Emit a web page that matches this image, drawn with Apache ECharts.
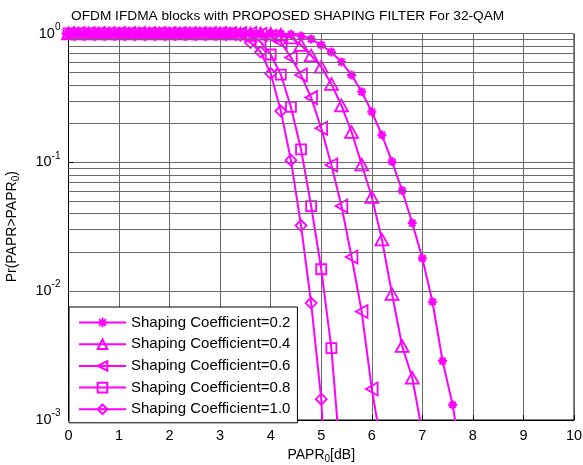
<!DOCTYPE html>
<html>
<head>
<meta charset="utf-8">
<script src="https://cdn.jsdelivr.net/npm/echarts@6/dist/echarts.min.js"></script>
<style>
  html, body { margin: 0; padding: 0; background: #fff; }
  #chart { width: 583px; height: 465px; }
</style>
</head>
<body>
<div id="chart"></div>
<script>
// PAPR threshold values (dB), one sample every 0.2 dB
const papr = [0, 0.2, 0.4, 0.6, 0.8, 1.0, 1.2, 1.4, 1.6, 1.8,
              2.0, 2.2, 2.4, 2.6, 2.8, 3.0, 3.2, 3.4, 3.6, 3.8,
              4.0, 4.2, 4.4, 4.6, 4.8, 5.0, 5.2, 5.4, 5.6, 5.8,
              6.0, 6.2, 6.4, 6.6, 6.8, 7.0, 7.2, 7.4, 7.6, 7.8];

// CCDF Pr(PAPR > PAPR0) for each shaping coefficient (null = no further samples)
const ccdf02 = [1, 1, 1, 1, 1, 1, 1, 1, 1, 1,
                1, 1, 1, 1, 1, 1, 1, 1, 1, 1,
                1, 0.995, 0.985, 0.956, 0.906, 0.814, 0.718, 0.601, 0.476, 0.353,
                0.247, 0.163, 0.1014, 0.0604, 0.0338, 0.0180, 0.00828, 0.00287, 0.00131, 0.0004];
const ccdf04 = [1, 1, 1, 1, 1, 1, 1, 1, 1, 1,
                1, 1, 1, 1, 1, 1, 1, 1, 1, 1,
                0.995, 0.98, 0.93, 0.814, 0.675, 0.552, 0.406, 0.276, 0.172, 0.0961,
                0.0538, 0.0252, 0.0095, 0.00375, 0.00213, 0.0008, null, null, null, null];
const ccdf06 = [1, 1, 1, 1, 1, 1, 1, 1, 1, 1,
                1, 1, 1, 1, 1, 1, 1, 1, 1, 0.985,
                0.95, 0.86, 0.651, 0.476, 0.318, 0.184, 0.0953, 0.0458, 0.0184, 0.00695,
                0.00174, 0.0006, null, null, null, null, null, null, null, null];
const ccdf08 = [1, 1, 1, 1, 1, 1, 1, 1, 1, 1,
                1, 1, 1, 1, 1, 1, 1, 0.99, 0.96, 0.86,
                0.687, 0.480, 0.269, 0.126, 0.0458, 0.0148, 0.00361, 0.0004, null, null,
                null, null, null, null, null, null, null, null, null, null];
const ccdf10 = [1, 1, 1, 1, 1, 1, 1, 1, 1, 1,
                1, 1, 1, 1, 1, 0.998, 0.99, 0.97, 0.85, 0.718,
                0.489, 0.250, 0.104, 0.0323, 0.00809, 0.00145, 0.00004, null, null, null,
                null, null, null, null, null, null, null, null, null, null];

const seriesNames = ['Shaping Coefficient=0.2', 'Shaping Coefficient=0.4',
                     'Shaping Coefficient=0.6', 'Shaping Coefficient=0.8',
                     'Shaping Coefficient=1.0'];

// x-axis tick values and y-axis decades
const xTicks = [0, 1, 2, 3, 4, 5, 6, 7, 8, 9, 10];
const yDecades = [-3, -2, -1, 0];
// logarithmic minor grid mantissas
const minorMantissas = [2, 3, 4, 5, 6, 7, 8, 9];

const MAGENTA = '#ff00ff';
const FONT = '"Liberation Sans", Arial, Helvetica, sans-serif';

// marker shapes (hollow, stroked)
const markers = [
  { symbol: 'path://M5,0L5,10M0,5L10,5M1.5,1.5L8.5,8.5M1.5,8.5L8.5,1.5', size: 9 },
  { symbol: 'path://M5,0L10,9L0,9Z', size: 13 },
  { symbol: 'path://M0,5L9,0L9,10Z', size: 13 },
  { symbol: 'rect', size: 10 },
  { symbol: 'diamond', size: 11 }
];

const allCurves = [ccdf02, ccdf04, ccdf06, ccdf08, ccdf10];

function toPairs(ys) {
  const out = [];
  for (let i = 0; i < papr.length; i++) {
    if (ys[i] === null || ys[i] === undefined) break;
    out.push([papr[i], ys[i]]);
  }
  return out;
}

const series = allCurves.map((ys, k) => ({
  name: seriesNames[k],
  type: 'line',
  data: toPairs(ys),
  symbol: markers[k].symbol,
  symbolSize: markers[k].size,
  symbolKeepAspect: true,
  showAllSymbol: true,
  clip: true,
  animation: false,
  color: MAGENTA,
  lineStyle: { color: MAGENTA, width: 2 },
  itemStyle: { color: 'rgba(255,255,255,0)', borderColor: MAGENTA, borderWidth: k === 0 ? 2.2 : 1.8 },
  emphasis: { disabled: true },
  z: 3
}));

// minor horizontal grid lines at 2..9 x 10^k
const minorLines = [];
for (let d = 0; d < yDecades.length - 1; d++) {
  const base = Math.pow(10, yDecades[d]);
  minorMantissas.forEach(m => minorLines.push({ yAxis: +(m * base).toPrecision(3) }));
}
series.unshift({
  name: 'grid-minor',
  type: 'line',
  data: [],
  silent: true,
  animation: false,
  markLine: {
    silent: true,
    symbol: 'none',
    label: { show: false },
    lineStyle: { color: '#6a6a6a', width: 1, type: 'solid' },
    data: minorLines,
    animation: false
  },
  z: 1
});

const chart = echarts.init(document.getElementById('chart'), null, { renderer: 'canvas' });
chart.setOption({
  backgroundColor: '#ffffff',
  animation: false,
  title: {
    text: 'OFDM IFDMA blocks with PROPOSED SHAPING FILTER For 32-QAM',
    left: 66,
    top: 4,
    textStyle: { fontFamily: FONT, fontSize: 13.7, fontWeight: 'normal', color: '#000' }
  },
  grid: {
    left: 68.5, right: 9, top: 33.5, bottom: 45,
    containLabel: false,
    outerBoundsMode: 'none',
    show: true, borderColor: '#000', borderWidth: 1, backgroundColor: 'transparent'
  },
  legend: {
    data: seriesNames,
    orient: 'vertical',
    left: 69,
    top: 307,
    padding: [7, 7, 5, 9],
    itemWidth: 47,
    itemHeight: 12,
    itemGap: 4.7,
    backgroundColor: '#fff',
    borderColor: '#000',
    borderWidth: 1,
    borderRadius: 0,
    selectedMode: false,
    textStyle: { fontFamily: FONT, fontSize: 15, color: '#000', lineHeight: 17 },
    z: 10
  },
  xAxis: {
    type: 'value',
    min: xTicks[0],
    max: xTicks[xTicks.length - 1],
    interval: 1,
    name: 'PAPR{sub|0}[dB]',
    nameLocation: 'middle',
    nameGap: 25,
    nameTextStyle: {
      fontFamily: FONT, fontSize: 14, color: '#000',
      rich: {
        sub: { fontFamily: FONT, fontSize: 10, color: '#000', padding: [8, 0, 0, 0], verticalAlign: 'top' }
      }
    },
    axisLine: { show: true, lineStyle: { color: '#000', width: 1 } },
    axisTick: { show: true, inside: true, length: 5, lineStyle: { color: '#000' } },
    axisLabel: { fontFamily: FONT, fontSize: 14.5, color: '#000', margin: 8 },
    splitLine: { show: true, lineStyle: { color: '#6a6a6a', width: 1, type: 'solid' } }
  },
  yAxis: {
    type: 'log',
    logBase: 10,
    min: Math.pow(10, yDecades[0]),
    max: Math.pow(10, yDecades[yDecades.length - 1]),
    name: 'Pr(PAPR>PAPR{sub|0})',
    nameLocation: 'middle',
    nameGap: 47,
    nameRotate: 90,
    nameTextStyle: {
      fontFamily: FONT, fontSize: 14, color: '#000',
      rich: {
        sub: { fontFamily: FONT, fontSize: 10, color: '#000', padding: [8, 0, 0, 0], verticalAlign: 'top' }
      }
    },
    axisLine: { show: true, lineStyle: { color: '#000', width: 1 } },
    axisTick: { show: true, inside: true, length: 5, lineStyle: { color: '#000' } },
    axisLabel: {
      margin: 8,
      formatter: function (v) {
        const e = Math.round(Math.log10(v));
        return '{b|10}{s|' + e + '}';
      },
      rich: {
        b: { fontFamily: FONT, fontSize: 14.5, color: '#000', verticalAlign: 'bottom', lineHeight: 15 },
        s: { fontFamily: FONT, fontSize: 10, color: '#000', verticalAlign: 'bottom', lineHeight: 10, padding: [0, 0, 9, 0] }
      }
    },
    splitLine: { show: true, lineStyle: { color: '#6a6a6a', width: 1, type: 'solid' } }
  },
  series: series
});
</script>
</body>
</html>
